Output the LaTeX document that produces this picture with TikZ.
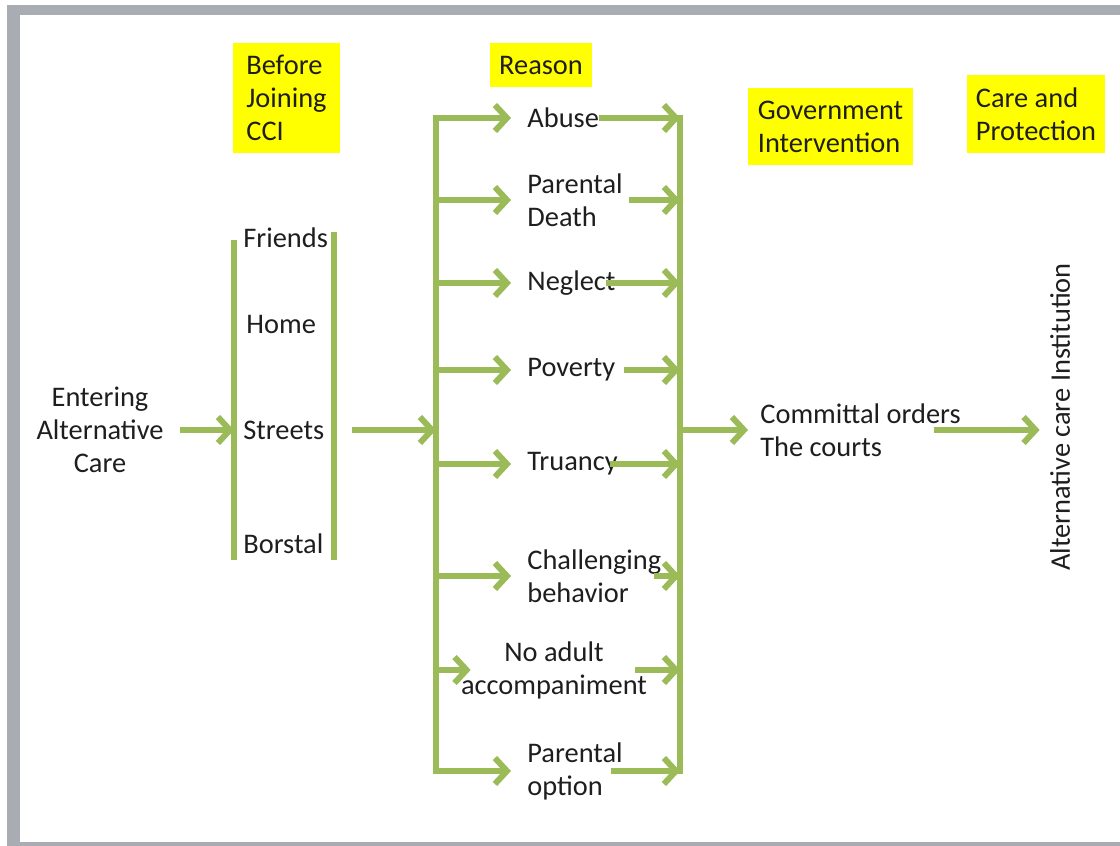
\documentclass[tikz,border=0pt]{standalone}
\usepackage{fontspec}
\setmainfont{Carlito}
\usetikzlibrary{arrows.meta,positioning}
\definecolor{CareGreen}{HTML}{9BBB59}
\definecolor{CareYellow}{HTML}{FFFF00}
\definecolor{CareFrame}{HTML}{A9ADB3}
\definecolor{CareInk}{HTML}{1E1E1E}
\newcommand{\CareFont}{\fontsize{14.2}{16.5}\selectfont}
\tikzset{
  labeltext/.style={
    inner sep=0pt,
    text=CareInk,
    font=\CareFont
  },
  headbox/.style={
    fill=CareYellow,
    inner ysep=0pt,
    align=left,
    text=CareInk,
    font=\CareFont
  },
  busline/.style={
    draw=CareGreen,
    line width=3pt
  },
  flowarrow/.style={
    -{Straight Barb[length=6pt,width=13pt]},
    draw=CareGreen,
    line width=3pt
  }
}

\begin{document}
\begin{tikzpicture}[x=0.5pt,y=-0.5pt]
\path[use as bounding box] (0,0) rectangle (1120,846);

% window frame
\fill[CareFrame] (7,5) rectangle (1120,15);
\fill[CareFrame] (7,5) rectangle (20,846);
\fill[CareFrame] (20,842) rectangle (1120,846);

% column headings
\node[headbox, inner xsep=6.5pt, minimum height=55pt] (hbefore) at (286.5,98) {Before\\Joining\\CCI};
\node[headbox, align=center, minimum width=51pt, minimum height=22pt] (hreason) at (541,65) {Reason};
\node[headbox, inner xsep=5pt, minimum height=38.5pt] (hgov) at (830.5,126.5) {Government\\Intervention};
\node[headbox, inner xsep=4.5pt, minimum height=39pt] (hcare) at (1036,114) {Care and\\Protection};

% entry and places before joining
\node[labeltext, align=center] (enter) at (100,430) {Entering\\Alternative\\Care};

\coordinate (brLtop) at (234,240);
\coordinate (brLbot) at (234,560);
\coordinate (brRtop) at (334,232);
\coordinate (brRbot) at (334,560);
\draw[busline] (brLtop) -- (brLbot);
\draw[busline] (brRtop) -- (brRbot);

\node[labeltext, anchor=west] (friends) at (243,238) {Friends};
\node[labeltext, anchor=west] (home) at (246,324) {Home};
\node[labeltext, anchor=west] (streets) at (243,430) {Streets};
\node[labeltext, anchor=west] (borstal) at (243,544) {Borstal};

% reasons
\node[labeltext, anchor=west] (abuse) at (527,118) {Abuse};
\node[labeltext, anchor=west, align=left] (pdeath) at (527,200) {Parental\\Death};
\node[labeltext, anchor=west] (neglect) at (527,283) {Neglect};
\node[labeltext, anchor=west] (poverty) at (527,370) {Poverty};
\node[labeltext, anchor=west] (truancy) at (527,464) {Truancy};
\node[labeltext, anchor=west, align=left] (challenge) at (527,576) {Challenging\\behavior};
\node[labeltext, align=center] (noadult) at (554,670) {No adult\\accompaniment};
\node[labeltext, anchor=west, align=left] (popt) at (527,771) {Parental\\option};

\coordinate (busLtop) at (436,115);
\coordinate (busLbot) at (436,774);
\coordinate (busRtop) at (680,115);
\coordinate (busRbot) at (680,774);
\draw[busline] (busLtop) -- (busLbot);
\draw[busline] (busRtop) -- (busRbot);

% government intervention and institution
\node[labeltext, anchor=west, align=left] (committal) at (760,430) {Committal orders\\The courts};
\node[labeltext, rotate=90] (inst) at (1060,417) {Alternative care Institution};

\draw[flowarrow, shorten <=8pt] (enter.east) -- (enter.east -| brLtop);
\draw[flowarrow, shorten <=9pt] (brRtop |- streets.east) -- (busLtop |- streets.east);

\draw[flowarrow, shorten >=8pt] (busLtop |- abuse.west) -- (abuse.west);
\draw[flowarrow, shorten >=8pt] (busLtop |- pdeath.west) -- (pdeath.west);
\draw[flowarrow, shorten >=8pt] (busLtop |- neglect.west) -- (neglect.west);
\draw[flowarrow, shorten >=8pt] (busLtop |- poverty.west) -- (poverty.west);
\draw[flowarrow, shorten >=8pt] (busLtop |- truancy.west) -- (truancy.west);
\draw[flowarrow, shorten >=8pt] (busLtop |- challenge.west) -- (challenge.west);
\draw[flowarrow] (busLtop |- noadult.west) -- ([xshift=5pt]noadult.west);
\draw[flowarrow, shorten >=8pt] (busLtop |- popt.west) -- (popt.west);

\draw[flowarrow] (abuse.east) -- (busRtop |- abuse.east);
\draw[flowarrow] ([xshift=3pt]pdeath.east) -- (busRtop |- pdeath.east);
\draw[flowarrow] ([xshift=-5pt]neglect.east) -- (busRtop |- neglect.east);
\draw[flowarrow] ([xshift=4pt]poverty.east) -- (busRtop |- poverty.east);
\draw[flowarrow] ([xshift=-4pt]truancy.east) -- (busRtop |- truancy.east);
\draw[flowarrow] ([xshift=-4pt]challenge.east) -- (busRtop |- challenge.east);
\draw[flowarrow] ([xshift=-6pt]noadult.east) -- (busRtop |- noadult.east);
\draw[flowarrow] ([xshift=-6pt]popt.east) -- (busRtop |- popt.east);

\draw[flowarrow, shorten >=6pt] (busRtop |- committal.west) -- (committal.west);
\draw[flowarrow, shorten >=5pt] ([xshift=-13.5pt]committal.east) -- (committal.east -| inst.north);

\end{tikzpicture}
\end{document}
